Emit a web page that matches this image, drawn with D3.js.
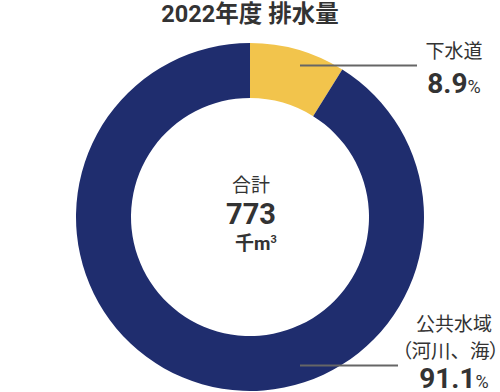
<!DOCTYPE html>
<html>
<head>
<meta charset="utf-8">
<script src="https://cdn.jsdelivr.net/npm/d3@7"></script>
<style>
  body { margin: 0; background: #fff; }
  text { font-family: Roboto, "Noto Sans CJK JP", sans-serif; fill: #333; }
  .palt { font-feature-settings: "palt"; }
</style>
</head>
<body>
<script>
// data
var categories = ["下水道", "公共水域"];
var subLabels = ["", "（河川、海）"];
var values = [8.9, 91.1];
var colors = ["#f2c44c", "#1f2d6e"];
var total = 773;
var title = "2022年度 排水量";

var w = 500, h = 392;
var cx = 250, cy = 217;
var outerR = 174, innerR = 119;

var svg = d3.select("body")
    .append("svg")
    .attr("width", w)
    .attr("height", h);

svg.append("text")
    .attr("x", 250)
    .attr("y", 22)
    .attr("text-anchor", "middle")
    .attr("font-size", "23.5px")
    .attr("font-weight", "bold")
    .text(title);

var pie = d3.pie().sort(null).value(function(d){ return d; });
var arc = d3.arc().innerRadius(innerR).outerRadius(outerR);

var g = svg.append("g").attr("transform", "translate(" + cx + "," + cy + ")");

g.selectAll("path")
    .data(pie(values))
    .enter()
    .append("path")
    .attr("d", arc)
    .attr("fill", function(d, i){ return colors[i]; });

// center
g.append("text")
    .attr("x", 1)
    .attr("y", -25.5)
    .attr("text-anchor", "middle")
    .attr("font-size", "19px")
    .text("合計");
g.append("text")
    .attr("x", 1)
    .attr("y", 7)
    .attr("text-anchor", "middle")
    .attr("font-size", "29px")
    .attr("font-weight", "bold")
    .text(total);
var unit = g.append("text")
    .attr("x", 6)
    .attr("y", 32.5)
    .attr("text-anchor", "middle")
    .attr("font-size", "19px")
    .attr("font-weight", "bold");
unit.append("tspan").text("千m");
unit.append("tspan").attr("font-size", "11px").attr("dy", -7).text("3");

// leader lines and labels
var labelX = 454;
var lines = [
    {x1: 300, x2: 417, y: 65.5},
    {x1: 300, x2: 398, y: 365.5}
];
svg.selectAll("line.leader")
    .data(lines)
    .enter()
    .append("line")
    .attr("class", "leader")
    .attr("x1", function(d){ return d.x1; })
    .attr("x2", function(d){ return d.x2; })
    .attr("y1", function(d){ return d.y; })
    .attr("y2", function(d){ return d.y; })
    .attr("stroke", "#666")
    .attr("stroke-width", 2);

var nameY = [58, 331];
var subY = [0, 358];
var pctY = [93, 388];

categories.forEach(function(c, i){
    svg.append("text")
        .attr("x", labelX)
        .attr("y", nameY[i])
        .attr("text-anchor", "middle")
        .attr("font-size", "19px")
        .text(c);
    if (subLabels[i]) {
        // full-width brackets trimmed with palt, inner text kept full width
        var s = subLabels[i];
        var sub = svg.append("text")
            .attr("x", 450.5)
            .attr("y", subY[i])
            .attr("text-anchor", "middle")
            .attr("font-size", "19.5px");
        sub.append("tspan").attr("class", "palt").text(s.slice(0, 1));
        sub.append("tspan").text(s.slice(1, -1));
        sub.append("tspan").attr("class", "palt").text(s.slice(-1));
    }
    var t = svg.append("text")
        .attr("x", labelX)
        .attr("y", pctY[i])
        .attr("text-anchor", "middle")
        .attr("font-weight", "bold");
    t.append("tspan").attr("font-size", "28px").text(values[i]);
    t.append("tspan").attr("font-size", "18px").attr("font-weight", "normal").text("%");
});
</script>
</body>
</html>
